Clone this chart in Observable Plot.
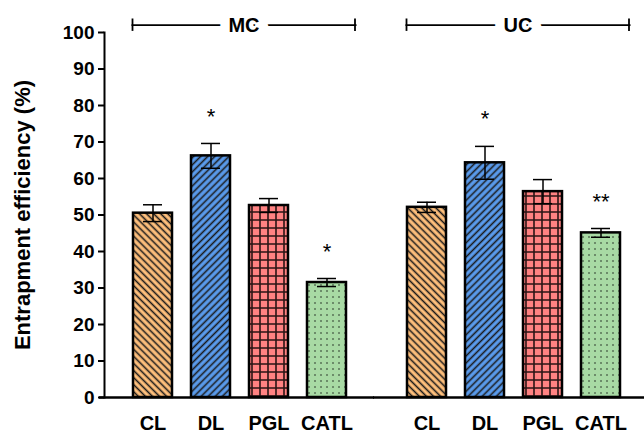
<!DOCTYPE html>
<html>
<head>
<meta charset="utf-8">
<script src="https://cdn.jsdelivr.net/npm/d3@7"></script>
<script src="https://cdn.jsdelivr.net/npm/@observablehq/plot@0.6"></script>
<style>
  html, body { margin: 0; padding: 0; background: #fff; }
  #chart { width: 644px; height: 444px; }
</style>
</head>
<body>
<div id="chart"></div>
<script>
// ---- data ----
const categories = ["CL", "DL", "PGL", "CATL"];
const groups = ["MC", "UC"];
const mcMeans = [50.5, 66.2, 52.6, 31.5];
const mcErrors = [2.3, 3.4, 1.9, 1.1];
const ucMeans = [52.1, 64.3, 56.4, 45.1];
const ucErrors = [1.4, 4.5, 3.3, 1.2];
const mcSig = ["", "*", "", "*"];
const ucSig = ["", "*", "", "**"];
const yTicks = [0, 10, 20, 30, 40, 50, 60, 70, 80, 90, 100];
const yLabel = "Entrapment efficiency (%)";
const bgColors = ["#FFC07C", "#5A9CEE", "#FF8282", "#A8DAA4"];

const rows = [];
groups.forEach((g, gi) => {
  const means = gi === 0 ? mcMeans : ucMeans;
  const errs = gi === 0 ? mcErrors : ucErrors;
  const sig = gi === 0 ? mcSig : ucSig;
  categories.forEach((c, i) => rows.push({group: g, cat: c, mean: means[i], err: errs[i], sig: sig[i]}));
});
const groupRows = groups.map(g => ({group: g}));
const patternIds = categories.map(c => "pat-" + c);

const font = "'Liberation Sans', Arial, sans-serif";

const chart = Plot.plot({
  width: 644,
  height: 444,
  marginLeft: 104,
  marginRight: 1,
  marginTop: 32,
  marginBottom: 47,
  style: {fontFamily: font, background: "#fff", color: "#000"},
  fx: {domain: groups, paddingInner: 0.033, paddingOuter: 0, axis: null, label: null},
  x: {domain: categories, paddingInner: 0.32, paddingOuter: 0.4175, align: 0.571, axis: null, label: null},
  y: {domain: [0, 100], axis: null, label: null},
  color: {domain: categories, range: patternIds.map(id => `url(#${id})`)},
  marks: [
    Plot.barY(rows, {fx: "group", x: "cat", y: "mean", fill: "cat", stroke: "#000", strokeWidth: 2.5}),
    Plot.ruleX(rows, {fx: "group", x: "cat", y1: d => d.mean - d.err, y2: d => d.mean + d.err, stroke: "#000", strokeWidth: 1.5}),
    Plot.tickY(rows, {fx: "group", x: "cat", y: d => d.mean + d.err, insetLeft: 10, insetRight: 10, stroke: "#000", strokeWidth: 1.5}),
    Plot.tickY(rows, {fx: "group", x: "cat", y: d => d.mean - d.err, insetLeft: 10, insetRight: 10, stroke: "#000", strokeWidth: 1.5}),
    Plot.text(rows, {fx: "group", x: "cat", y: d => d.mean + d.err, text: "sig", dy: -27, fontSize: 22, fill: "#000"}),
    Plot.ruleY([0], {insetLeft: -5, insetRight: -5, stroke: "#000", strokeWidth: 2.5}),
    Plot.frame({anchor: "left", facetAnchor: "left", stroke: "#000", strokeWidth: 2}),
    Plot.axisY({ticks: yTicks, tickSize: 6, tickPadding: 4, fontSize: 19, fontWeight: "bold", strokeWidth: 2, label: null}),
    Plot.axisX({tickSize: 0, tickPadding: 18, fontSize: 20, fontWeight: "bold", label: null}),
    Plot.text([yLabel], {fx: () => groups[0], frameAnchor: "left", textAnchor: "middle", rotate: -90, dx: -82, fontSize: 22, fontWeight: "bold", fill: "#000"}),
    // group brackets
    Plot.ruleY(groupRows, {fx: "group", y: () => 102, insetLeft: 27.5, insetRight: 12.5, stroke: "#000", strokeWidth: 1.8}),
    Plot.ruleX(groupRows, {fx: "group", x: () => categories[0], y1: 100.3, y2: 103.7, dx: -20.5, stroke: "#000", strokeWidth: 1.8}),
    Plot.ruleX(groupRows, {fx: "group", x: () => categories[categories.length - 1], y1: 100.3, y2: 103.7, dx: 28, stroke: "#000", strokeWidth: 1.8}),
    Plot.text(groupRows, {fx: "group", y: () => 102, text: "group", dx: 7, fontSize: 20, fontWeight: "bold", fill: "#000", stroke: "#fff", strokeWidth: 19, strokeLinejoin: "round", paintOrder: "stroke"})
  ]
});

document.getElementById("chart").appendChild(chart);

// ---- hatch patterns ----
const svg = d3.select(chart.tagName === "svg" ? chart : chart.querySelector("svg"));
const defs = svg.insert("defs", ":first-child");
function stripes(id, bg, angle) {
  const p = defs.append("pattern").attr("id", id).attr("patternUnits", "userSpaceOnUse")
    .attr("width", 5).attr("height", 5).attr("patternTransform", `rotate(${angle})`);
  p.append("rect").attr("width", 5).attr("height", 5).attr("fill", bg);
  p.append("line").attr("x1", 2.5).attr("x2", 2.5).attr("y1", 0).attr("y2", 5).attr("stroke", "#1a1a1a").attr("stroke-width", 1.6);
}
stripes(patternIds[0], bgColors[0], -45);
stripes(patternIds[1], bgColors[1], 45);
{
  const p = defs.append("pattern").attr("id", patternIds[2]).attr("patternUnits", "userSpaceOnUse").attr("width", 8).attr("height", 8);
  p.append("rect").attr("width", 8).attr("height", 8).attr("fill", bgColors[2]);
  p.append("path").attr("d", "M4,0V8M0,4H8").attr("stroke", "#2a1414").attr("stroke-width", 1.6);
}
{
  const p = defs.append("pattern").attr("id", patternIds[3]).attr("patternUnits", "userSpaceOnUse").attr("width", 6).attr("height", 6);
  p.append("rect").attr("width", 6).attr("height", 6).attr("fill", bgColors[3]);
  p.append("rect").attr("x", 2.3).attr("y", 2.3).attr("width", 1.4).attr("height", 1.4).attr("fill", "#2d3a2d");
}
</script>
</body>
</html>
